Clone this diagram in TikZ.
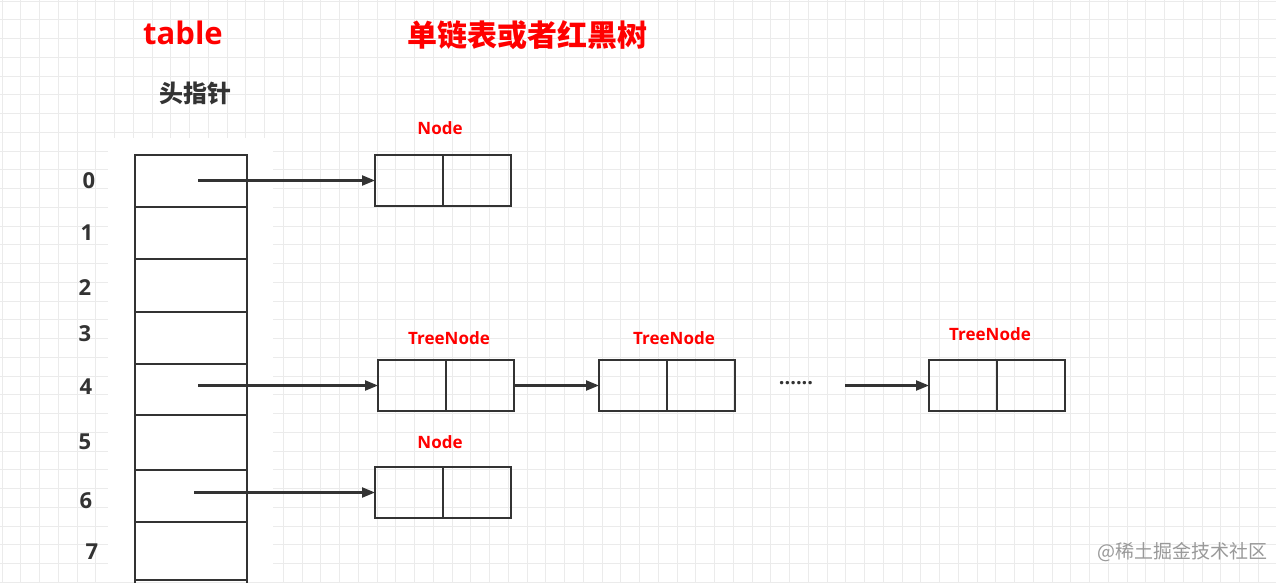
\documentclass[tikz,border=0pt]{standalone}
\usepackage{fontspec}
\setmainfont{Open Sans}
\newfontfamily\cjk{Noto Sans CJK SC}
\usetikzlibrary{arrows.meta}
\definecolor{dk}{HTML}{333333}
\tikzset{
  box/.style={draw=dk,line width=2.2pt},
  arr/.style={draw=dk,line width=2.2pt,-{Triangle[length=13pt,width=10pt]}},
  lbl/.style={text=red,font=\bfseries\fontsize{17}{19}\selectfont},
  num/.style={text=dk,font=\bfseries\fontsize{22}{24}\selectfont},
}
\begin{document}
\begin{tikzpicture}[x=1pt,y=-1pt]
\useasboundingbox (0,0) rectangle (1276,582);
\fill[white] (0,0) rectangle (1276,582);
\foreach \i in {0,...,68} {\draw[black!8,line width=1pt] (2+\i*18.75,0) -- (2+\i*18.75,582);}
\foreach \j in {0,...,31} {\draw[black!8,line width=1pt] (0,1+\j*18.75) -- (1276,1+\j*18.75);}
\fill[white] (108,138) rectangle (273,582);
% table column
\foreach \a/\b in {155/207,207/259,259/312,312/364,364/415,415/470,470/522,522/580}
  {\draw[box,line width=1.5pt] (135,\a) rectangle (247,\b);}
\draw[box,line width=1.5pt] (135,580) -- (135,590) (247,580) -- (247,590);
\foreach \n/\x/\y in {0/89/181,1/87/233,2/85/288,3/85/334,4/86/387,5/85/442,6/86/501,7/92/552}
  {\node[num] (d\n) at (\x,\y) {\n};}
\node[text=red,font=\bfseries\fontsize{31}{34}\selectfont] (t1) at (183,33) {table};
\node[text=red,font=\cjk\bfseries\fontsize{30}{34}\selectfont] (t2) at (527,35) {单链表或者红黑树};
\node[text=dk,font=\cjk\bfseries\fontsize{24}{26}\selectfont] (t3) at (195,93) {头指针};
% nodes
\foreach \nm/\x/\y in {n0/375/155,tn1/378/360,tn2/599/360,tn3/929/360,n6/375/467}{
  \draw[box] (\x,\y) rectangle (\x+136,\y+51);
  \draw[box] (\x+68,\y) -- (\x+68,\y+51);
  \coordinate (\nm w) at (\x,\y+25.5);
  \coordinate (\nm e) at (\x+136,\y+25.5);
}
\node[lbl] (l1) at (440,128) {Node};
\node[lbl] (l2) at (449,338) {TreeNode};
\node[lbl] (l3) at (674,338) {TreeNode};
\node[lbl] (l4) at (990,334) {TreeNode};
\node[lbl] (l5) at (440,442) {Node};
\node[text=dk,font=\bfseries\fontsize{20}{22}\selectfont] (dots) at (796,383) {......};
\coordinate (s0) at (198,180.5);
\coordinate (s4) at (198,385.5);
\coordinate (s6) at (194,492.5);
\coordinate (s8) at (845,385.5);
\draw[arr] (s0) -- (n0w);
\draw[arr] (s4) -- (tn1w);
\draw[arr] (tn1e) -- (tn2w);
\draw[arr] (s8) -- (tn3w);
\draw[arr] (s6) -- (n6w);
\node[text=black!40,font=\cjk\fontsize{19}{21}\selectfont] (wm) at (1182,552) {@稀土掘金技术社区};
\end{tikzpicture}
\end{document}
